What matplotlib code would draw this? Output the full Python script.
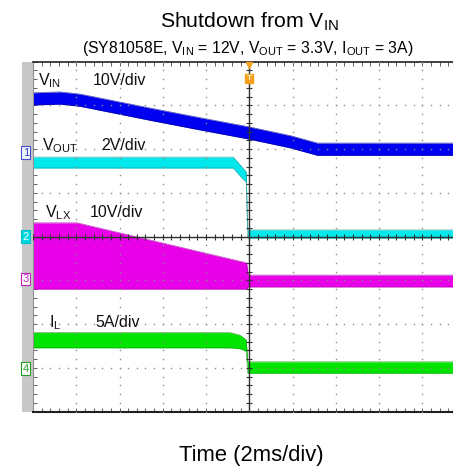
import numpy as np
import matplotlib
matplotlib.use('Agg')
import matplotlib.pyplot as plt
from matplotlib.ticker import MultipleLocator
from matplotlib.patches import Rectangle

plt.rcParams['font.family'] = ['Liberation Sans', 'DejaVu Sans']
plt.rcParams['mathtext.fontset'] = 'custom'
plt.rcParams['mathtext.rm'] = 'Liberation Sans'
plt.rcParams['mathtext.it'] = 'Liberation Sans'
plt.rcParams['mathtext.default'] = 'regular'

# ---------------- data (time in ms, envelopes of the scope traces) ----------------
t_vin = [-10, -8.75, -7.82, -4.58, -2.27, 0.0, 1.90, 3.15, 9.44]
vin_hi = [13.7, 13.9, 13.4, 10.2, 8.0, 5.9, 3.9, 2.2, 2.2]      # V
vin_lo = [10.9, 11.1, 10.6, 7.4, 5.2, 3.1, 1.1, -0.6, -0.6]     # V

t_vout = [-10, -0.74, -0.42, -0.14, -0.07, 9.44]
vout_hi = [3.64, 3.64, 3.28, 2.96, 0.31, 0.31]                   # V
vout_lo = [3.14, 3.14, 2.77, 2.50, -0.06, -0.06]                 # V

t_vlx = [-10, -7.96, -0.12, -0.05, 9.44]
vlx_hi = [12.85, 12.85, 3.7, 0.9, 0.9]                           # V
vlx_lo = [-2.3, -2.3, -2.3, -1.8, -1.8]                          # V

t_il = [-10, -0.9, -0.42, -0.14, -0.07, 9.44]
il_hi = [4.15, 4.15, 3.85, 3.3, 0.8, 0.8]                        # A
il_lo = [2.4, 2.4, 2.3, 2.0, -0.5, -0.5]                         # A

time_per_div = 2.0  # ms/div

# channel: (label, t, hi, lo, units/div, ground offset in div, fill colour, edge colour)
channels = [
    ('1', t_vin, vin_hi, vin_lo, 10.0, 1.92, '#0000f0', '#000090'),
    ('2', t_vout, vout_hi, vout_lo, 2.0, 0.0, '#00e8ec', '#108888'),
    ('3', t_vlx, vlx_hi, vlx_lo, 10.0, -0.967, '#e800e8', '#a000a0'),
    ('4', t_il, il_hi, il_lo, 5.0, -3.02, '#00e400', '#108a10'),
]

W, H = 453, 470
fig = plt.figure(figsize=(W / 100, H / 100), dpi=100)
fig.patch.set_facecolor('white')

# grey strip at left of the screen
fig.patches.append(Rectangle((22 / W, (H - 411.7) / H), 11 / W, 350 / H,
                             transform=fig.transFigure, facecolor='#c8c8c8',
                             edgecolor='none', zorder=-5))

ax = fig.add_axes([33 / W, (H - 411.7) / H, 420 / W, 350 / H])
ax.set_xlim(-5, 420 / 43.25 - 5)
ax.set_ylim(-4, 4)
ax.set_facecolor('white')

# traces
for name, t, hi, lo, scale, off, fc, ec in channels:
    x = np.array(t) / time_per_div
    yh = off + np.array(hi) / scale
    yl = off + np.array(lo) / scale
    ax.fill_between(x, yl, yh, color=fc, lw=0, zorder=2)
    ax.plot(x, yh, color=ec, lw=0.5, zorder=2.1, alpha=0.7)
    ax.plot(x, yl, color=ec, lw=0.5, zorder=2.1, alpha=0.7)

# dotted grid
ys = np.arange(-4, 4.001, 0.2)
xs = np.arange(-5, 4.75, 0.2)
for xi in range(-4, 5):
    if xi == 0:
        continue
    ax.plot(np.full_like(ys, xi), ys, ls='none', marker='s', ms=1.0,
            mec='none', mfc='#8c8c8c', zorder=3)
for yi in range(-3, 4):
    if yi == 0:
        continue
    ax.plot(xs, np.full_like(xs, yi), ls='none', marker='s', ms=1.0,
            mec='none', mfc='#8c8c8c', zorder=3)

# center crosshair with ticks
ax.axvline(0, color='#303030', lw=1.0, zorder=4)
ax.axhline(0, color='#303030', lw=1.0, zorder=4)
ax.plot(np.zeros_like(ys), ys, ls='none', marker='_', ms=4.5, mew=0.8,
        color='#303030', zorder=4)
ax.plot(xs, np.zeros_like(xs), ls='none', marker='|', ms=4.5, mew=0.8,
        color='#303030', zorder=4)

# spines / border ticks
ax.spines['right'].set_visible(False)
ax.spines['top'].set_color('#202020')
ax.spines['top'].set_linewidth(1.2)
ax.spines['bottom'].set_color('#202020')
ax.spines['bottom'].set_linewidth(1.5)
ax.spines['left'].set_color('#909090')
ax.spines['left'].set_linewidth(0.8)
for a in (ax.xaxis, ax.yaxis):
    a.set_major_locator(MultipleLocator(1))
    a.set_minor_locator(MultipleLocator(0.2))
ax.tick_params(which='both', direction='in', length=3, width=0.7, color='#606060',
               top=True, bottom=True, left=True, right=False,
               labelbottom=False, labelleft=False)

# trigger marker
orange = '#f5a020'
ax.plot(0, 3.93, marker='v', ms=4, color=orange, clip_on=False, zorder=6)
ax.text(0, 3.62, 'T', ha='center', va='center', fontsize=6, color='#fff0c0',
        fontweight='bold', zorder=6,
        bbox=dict(boxstyle='square,pad=0.15', fc=orange, ec=orange))

# channel ground markers
ytr = ax.get_yaxis_transform()
marker_style = {
    '1': dict(fc='#f0f4ff', ec='#4050c8', tc='#3040c0'),
    '2': dict(fc='#00d8e0', ec='#00c0c8', tc='white'),
    '3': dict(fc='white', ec='#c020c0', tc='#c020c0'),
    '4': dict(fc='white', ec='#20a020', tc='#20a020'),
}
for name, t, hi, lo, scale, off, fc, ec in channels:
    s = marker_style[name]
    ax.text(-0.017, off, name, transform=ytr, ha='center', va='center',
            fontsize=8, color=s['tc'], clip_on=False, zorder=7,
            bbox=dict(boxstyle='square,pad=0.12', fc=s['fc'], ec=s['ec'], lw=0.8))

# trace labels (figure pixel positions)
def ftext(px, py, s, **kw):
    fig.text(px / W, 1 - py / H, s, **kw)

lab = dict(fontsize=11.5, color='#101010', va='baseline', ha='left')
ftext(38, 85, 'V$_{IN}$', **lab)
ftext(93, 85, '10V/div', **lab)
ftext(42, 150, 'V$_{OUT}$', **lab)
ftext(101, 150, '2V/div', **lab)
ftext(45, 217, 'V$_{LX}$', **lab)
ftext(90, 217, '10V/div', **lab)
ftext(49, 327, 'I$_{L}$', **lab)
ftext(95, 327, '5A/div', **lab)

ftext(249, 27.3, 'Shutdown from V$_{IN}$', fontsize=15.3, ha='center', va='baseline')
ftext(248, 53, '(SY81058E, V$_{IN}$ = 12V, V$_{OUT}$ = 3.3V, I$_{OUT}$ = 3A)',
      fontsize=11.3, ha='center', va='baseline')
ftext(251, 460.7, 'Time (2ms/div)', fontsize=15.8, ha='center', va='baseline')

fig.savefig('out.png', dpi=100)
